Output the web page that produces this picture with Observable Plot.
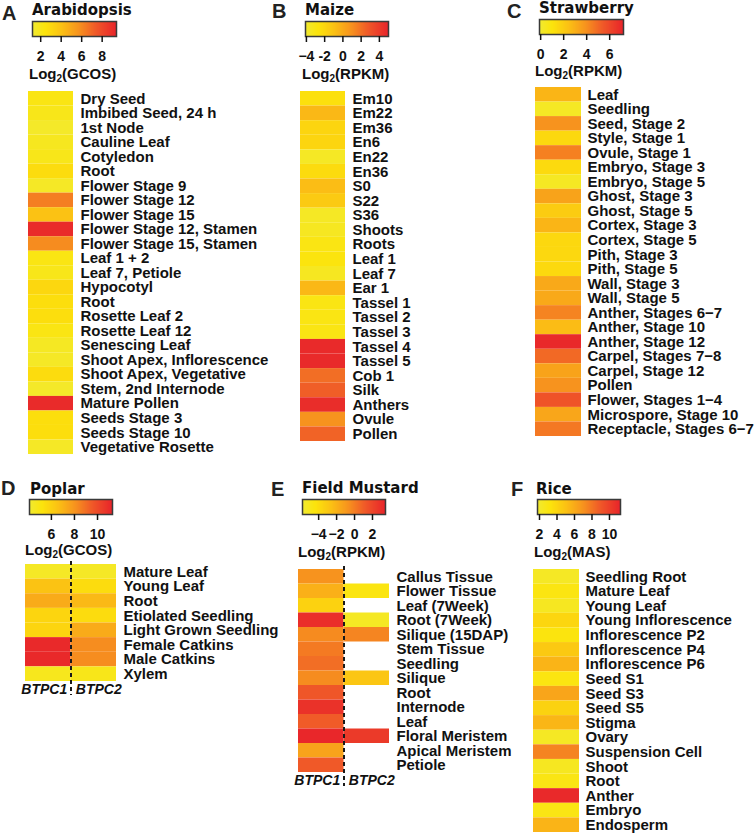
<!DOCTYPE html>
<html><head><meta charset="utf-8">
<script src="https://cdn.jsdelivr.net/npm/d3@7"></script>
<script src="https://cdn.jsdelivr.net/npm/@observablehq/plot@0.6"></script>
<style>
body{margin:0;background:#fff;}
#root{position:relative;width:755px;height:835px;overflow:hidden;font-family:"Liberation Sans",Arial,Helvetica,sans-serif;color:#111;}
.letter{position:absolute;font:bold 20px "Liberation Sans",Arial,sans-serif;line-height:20px;color:#222;}
.title{position:absolute;font:bold 15px "DejaVu Sans",sans-serif;line-height:18px;white-space:nowrap;color:#111;}
.unit{position:absolute;font:bold 15px "Liberation Sans",Arial,sans-serif;line-height:17px;white-space:nowrap;color:#111;}
.unit sub{font-size:10px;line-height:0;vertical-align:-3px;}
</style></head><body><div id="root"></div>
<script>
// ---------------- DATA ----------------
// A. Arabidopsis (Log2 GCOS)
const arabidopsisTissues = ["Dry Seed","Imbibed Seed, 24 h","1st Node","Cauline Leaf","Cotyledon","Root","Flower Stage 9","Flower Stage 12","Flower Stage 15","Flower Stage 12, Stamen","Flower Stage 15, Stamen","Leaf 1 + 2","Leaf 7, Petiole","Hypocotyl","Root","Rosette Leaf 2","Rosette Leaf 12","Senescing Leaf","Shoot Apex, Inflorescence","Shoot Apex, Vegetative","Stem, 2nd Internode","Mature Pollen","Seeds Stage 3","Seeds Stage 10","Vegetative Rosette"];
const arabidopsisValues = [2.2,2.0,1.5,1.8,2.0,2.8,1.6,6.3,4.0,9.1,5.9,2.2,2.0,3.0,2.7,2.7,2.2,1.7,1.6,2.8,1.5,9.1,2.7,2.7,1.6];
const arabidopsisRange = [1.2, 9.4];
const arabidopsisTicks = [2,4,6,8];
const arabidopsisTickLabels = ["2","4","6","8"];

// B. Maize (Log2 RPKM)
const maizeTissues = ["Em10","Em22","Em36","En6","En22","En36","S0","S22","S36","Shoots","Roots","Leaf 1","Leaf 7","Ear 1","Tassel 1","Tassel 2","Tassel 3","Tassel 4","Tassel 5","Cob 1","Silk","Anthers","Ovule","Pollen"];
const maizeValues = [-2.55,-0.6,-2.0,-2.0,-3.65,-2.3,-0.8,-1.4,-3.65,-3.5,-3.0,-2.8,-3.5,-0.6,-3.0,-3.0,-3.0,4.7,4.7,2.1,2.6,4.6,0.9,2.45];
const maizeRange = [-4.1, 5.0];
const maizeTicks = [-4,-2,0,2,4];
const maizeTickLabels = ["\u22124","-2","0","2","4"];

// C. Strawberry (Log2 RPKM)
const strawberryTissues = ["Leaf","Seedling","Seed, Stage 2","Style, Stage 1","Ovule, Stage 1","Embryo, Stage 3","Embryo, Stage 5","Ghost, Stage 3","Ghost, Stage 5","Cortex, Stage 3","Cortex, Stage 5","Pith, Stage 3","Pith, Stage 5","Wall, Stage 3","Wall, Stage 5","Anther, Stages 6\u22127","Anther, Stage 10","Anther, Stage 12","Carpel, Stages 7\u22128","Carpel, Stage 12","Pollen","Flower, Stages 1\u22124","Microspore, Stage 10","Receptacle, Stages 6\u22127"];
const strawberryValues = [2.8,0.27,3.9,1.5,4.4,1.4,0.34,3.4,1.95,2.8,1.5,1.5,1.45,3.2,3.2,4.3,2.6,7.0,5.0,3.4,3.9,5.6,3.3,4.6];
const strawberryRange = [-0.1, 7.2];
const strawberryTicks = [0,2,4,6];
const strawberryTickLabels = ["0","2","4","6"];

// D. Poplar (Log2 GCOS), two genes
const poplarTissues = ["Mature Leaf","Young Leaf","Root","Etiolated Seedling","Light Grown Seedling","Female Catkins","Male Catkins","Xylem"];
const poplarBTPC1 = [4.45,6.5,7.3,5.8,5.8,11.1,11.1,4.7];
const poplarBTPC2 = [4.45,5.5,6.85,5.5,7.3,8.2,8.2,4.8];
const poplarRange = [4.1, 11.3];
const poplarTicks = [6,8,10];
const poplarTickLabels = ["6","8","10"];

// E. Field Mustard (Log2 RPKM), two genes
const mustardTissues = ["Callus Tissue","Flower Tissue","Leaf (7Week)","Root (7Week)","Silique (15DAP)","Stem Tissue","Seedling","Silique","Root","Internode","Leaf","Floral Meristem","Apical Meristem","Petiole"];
const mustardBTPC1 = [-0.7,-1.9,-3.5,3.0,-0.45,0.1,0.5,-0.5,1.3,2.8,1.1,3.3,-1.35,1.2];
const mustardBTPC2 = [null,-4.6,null,-5.3,-0.25,null,null,-2.85,null,null,null,2.5,null,null];
const mustardRange = [-5.8, 3.45];
const mustardTicks = [-4,-2,0,2];
const mustardTickLabels = ["\u22124","\u22122","0","2"];

// F. Rice (Log2 MAS)
const riceTissues = ["Seedling Root","Mature Leaf","Young Leaf","Young Inflorescence","Inflorescence P2","Inflorescence P4","Inflorescence P6","Seed S1","Seed S3","Seed S5","Stigma","Ovary","Suspension Cell","Shoot","Root","Anther","Embryo","Endosperm"];
const riceValues = [2.25,3.0,2.4,3.95,3.1,4.6,5.6,3.0,6.25,4.15,5.5,2.3,7.5,2.4,2.9,11.0,2.9,5.6];
const riceRange = [1.77, 11.26];
const riceTicks = [2,4,6,8,10];
const riceTickLabels = ["2","4","6","8","10"];

const geneColumns = ["BTPC1","BTPC2"];

// ---------------- PANELS ----------------
const panels = [
  {letter:"A", title:"Arabidopsis", unit:"GCOS", tissues:arabidopsisTissues, columns:[""], values:[arabidopsisValues], range:arabidopsisRange, ticks:arabidopsisTicks, tickLabels:arabidopsisTickLabels},
  {letter:"B", title:"Maize", unit:"RPKM", tissues:maizeTissues, columns:[""], values:[maizeValues], range:maizeRange, ticks:maizeTicks, tickLabels:maizeTickLabels},
  {letter:"C", title:"Strawberry", unit:"RPKM", tissues:strawberryTissues, columns:[""], values:[strawberryValues], range:strawberryRange, ticks:strawberryTicks, tickLabels:strawberryTickLabels},
  {letter:"D", title:"Poplar", unit:"GCOS", tissues:poplarTissues, columns:geneColumns, values:[poplarBTPC1, poplarBTPC2], range:poplarRange, ticks:poplarTicks, tickLabels:poplarTickLabels},
  {letter:"E", title:"Field Mustard", unit:"RPKM", tissues:mustardTissues, columns:geneColumns, values:[mustardBTPC1, mustardBTPC2], range:mustardRange, ticks:mustardTicks, tickLabels:mustardTickLabels},
  {letter:"F", title:"Rice", unit:"MAS", tissues:riceTissues, columns:[""], values:[riceValues], range:riceRange, ticks:riceTicks, tickLabels:riceTickLabels}
];

// layout (pixel positions)
const layout = {
  A:{lx:2,ly:3,  tx:32,ty:0.8,  bx:32,by:21,bw:84,  ux:29,uy:65,  cx:28,cy:91,cw:45,ch:363,pad:7},
  B:{lx:272,ly:1, tx:305,ty:0.8, bx:305,by:21,bw:83, ux:302,uy:65, cx:300,cy:91,cw:45,ch:350,pad:7},
  C:{lx:507,ly:1, tx:539,ty:-1.5,bx:539,by:19,bw:84, ux:535,uy:62, cx:535,cy:87,cw:46,ch:349,pad:6},
  D:{lx:1,ly:478, tx:30,ty:479.8,bx:29,by:499,bw:83, ux:25,uy:541, cx:25,cy:564,cw:91,ch:117,pad:7},
  E:{lx:271,ly:479,tx:302,ty:479,bx:302,by:499,bw:83, ux:298,uy:543, cx:298,cy:569,cw:91,ch:203,pad:7},
  F:{lx:511,ly:479,tx:536,ty:479.8,bx:537,by:499,bw:83, ux:534,uy:543, cx:533,cy:569,cw:46,ch:263,pad:6}
};

const rampStops = [0, 0.15, 0.35, 0.55, 0.75, 1];
const rampColors = ["#f1ea32","#fce40c","#fbc014","#f7931e","#f05a28","#e8232a"];
const rampScale = d3.scaleLinear().domain(rampStops).range(rampColors).interpolate(d3.interpolateRgb).clamp(true);
const colorOpts = range => ({type:"linear", domain:range, interpolate: t => rampScale(t)});

const FONT = '"Liberation Sans", Arial, Helvetica, sans-serif';
const root = document.getElementById("root");
function place(el, x, y) {
  el.style.position = "absolute";
  el.style.left = x + "px";
  el.style.top = y + "px";
  root.appendChild(el);
  return el;
}
function div(cls, html) { const d = document.createElement("div"); d.className = cls; d.innerHTML = html; return d; }

function colorbar(p, L) {
  const pad = 16, bh = 15, mb = 34;
  const fmt = new Map(p.ticks.map((t, i) => [t, p.tickLabels[i]]));
  const fillMark = typeof Plot.raster === "function"
    ? Plot.raster({fill: (x, y) => x, x1: p.range[0], x2: p.range[1], y1: 0, y2: 1})
    : Plot.rect(d3.range(120).map(i => p.range[0] + (p.range[1]-p.range[0]) * i / 120), {x1: d => d, x2: d => d + (p.range[1]-p.range[0]) / 119, y1: 0, y2: 1, fill: d => d});
  return Plot.plot({
    width: L.bw + 2 * pad, height: bh + 2 + mb,
    marginLeft: pad, marginRight: pad, marginTop: 2, marginBottom: mb,
    x: {domain: p.range, axis: null, round: false},
    y: {domain: [0, 1], axis: null},
    color: colorOpts(p.range),
    style: {fontFamily: FONT, background: "transparent", overflow: "visible", maxWidth: "none"},
    marks: [
      fillMark,
      Plot.frame({stroke: "#3a3a3a", strokeWidth: 1.5}),
      Plot.axisX({ticks: p.ticks, tickFormat: d => fmt.get(d), tickSize: 6, tickPadding: 9,
        fontSize: 14, fontWeight: "bold", stroke: "#111", strokeWidth: 1.5, label: null, fill: "#111"})
    ]
  });
}

function heatmap(p, L) {
  const n = p.tissues.length, nc = p.columns.length;
  const cells = [];
  p.values.forEach((col, j) => col.forEach((v, i) => {
    if (v != null) cells.push({row: i, c0: j, c1: j + 1, value: v});
  }));
  const mt = 3, mb = nc > 1 ? 24 : 3, ml = 2, mr = 230;
  const marks = [
    Plot.barX(cells, {x1: "c0", x2: "c1", y: "row", fill: "value"}),
    Plot.axisY({anchor: "right", tickSize: 0, tickPadding: L.pad, tickFormat: i => p.tissues[i],
      fontSize: 15, fontWeight: "bold", fill: "#111", label: null})
  ];
  if (nc > 1) {
    marks.push(Plot.ruleX([1], {stroke: "#1a1a1a", strokeWidth: 2, strokeDasharray: "4,3", insetTop: -3, insetBottom: -14}));
    marks.push(Plot.axisX({ticks: [0.5], tickFormat: () => p.columns[0], tickSize: 0, tickPadding: 3, dx: -4,
      fontSize: 14, fontWeight: "bold", fontStyle: "italic", fill: "#111", label: null}));
    marks.push(Plot.axisX({ticks: [1.5], tickFormat: () => p.columns[1], tickSize: 0, tickPadding: 3, dx: 5,
      fontSize: 14, fontWeight: "bold", fontStyle: "italic", fill: "#111", label: null}));
  }
  const svg = Plot.plot({
    width: L.cw + ml + mr, height: L.ch + mt + mb,
    marginLeft: ml, marginRight: mr, marginTop: mt, marginBottom: mb,
    x: {domain: [0, nc], axis: null, round: false},
    y: {type: "band", domain: d3.range(n), padding: 0, round: false, axis: null},
    color: colorOpts(p.range),
    style: {fontFamily: FONT, background: "transparent", overflow: "visible", maxWidth: "none"},
    marks
  });
  return {svg, ml, mt};
}

for (const p of panels) {
  const L = layout[p.letter];
  place(div("letter", p.letter), L.lx, L.ly);
  place(div("title", p.title), L.tx, L.ty);
  place(colorbar(p, L), L.bx - 16, L.by - 2);
  place(div("unit", "Log<sub>2</sub>(" + p.unit + ")"), L.ux, L.uy);
  const h = heatmap(p, L);
  place(h.svg, L.cx - h.ml, L.cy - h.mt);
}
</script>
</body></html>
